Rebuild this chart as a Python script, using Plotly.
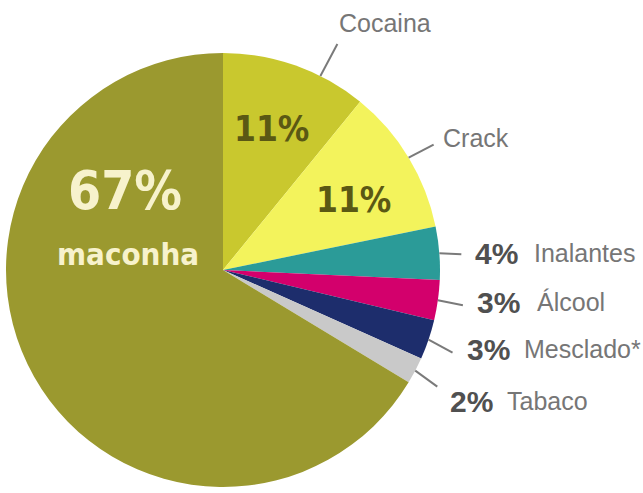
import math
import plotly.graph_objects as go

# ---- data ----
labels = ["Cocaina", "Crack", "Inalantes", "Álcool", "Mesclado*", "Tabaco", "maconha"]
values = [11, 11, 4, 3, 3, 2, 67]
colors = ["#c9c82e", "#f3f35c", "#2b9b98", "#d3006c", "#1d2d6c", "#c9c9c9", "#9b992f"]
pct_text = ["11%", "11%", "4%", "3%", "3%", "2%", "67%"]

W, H = 643, 493
CX, CY, R = 223, 270, 217  # pie centre / radius in px

fig = go.Figure(go.Pie(
    labels=labels, values=values, sort=False, direction="clockwise", rotation=0,
    marker=dict(colors=colors, line=dict(width=0)),
    textinfo="none", hoverinfo="label+percent", showlegend=False,
    domain=dict(x=[(CX - R) / W, (CX + R) / W], y=[1 - (CY + R) / H, 1 - (CY - R) / H]),
))

def px(x, y):
    return x / W, 1 - y / H

ann = []
def text(x, y, s, size, color, family="Liberation Sans, Arial, sans-serif", bold=False, xanchor="center"):
    ax, ay = px(x, y)
    ann.append(dict(x=ax, y=ay, xref="paper", yref="paper", text=(f"<b>{s}</b>" if bold else s),
                    showarrow=False, xanchor=xanchor, yanchor="middle",
                    font=dict(size=size, color=color, family=family)))

narrow = "Liberation Sans Narrow, DejaVu Sans Condensed, Arial Narrow, sans-serif"
cream = "#f7f2cc"
olive_dark = "#5a5814"
gray = "#767676"
dark = "#505050"

# inside labels
text(125, 190, pct_text[6], 53, cream, narrow, True)
text(128, 254, labels[6], 31, cream, narrow, True)
text(271, 129, pct_text[0], 35, olive_dark, narrow, True)
text(353, 200, pct_text[1], 35, olive_dark, narrow, True)

# outside name-only labels
text(385, 23, labels[0], 25, gray)
text(476, 138, labels[1], 25, gray)

# percent + name rows
rows = [  # (index, y, pct_x, name_x)
    (2, 253, 473, 532),
    (3, 302, 475, 535),
    (4, 349, 465, 522),
    (5, 401, 448, 505),
]
for i, y, xp, xn in rows:
    text(xp, y, pct_text[i], 30, dark, bold=True, xanchor="left")
    text(xn, y, labels[i], 25, gray, xanchor="left")

# leader lines from slice edges
total = sum(values)
leader_frac = [0.68, 0.5, 0.5, 0.5, 0.5, 0.5]
leader_off = [(17, -32), (25, -13), (22, 1), (25, 5), (24, 13), (22, 16)]
shapes = []
cum = 0.0
for i in range(6):
    ang = (cum + values[i] * leader_frac[i]) / total * 2 * math.pi
    cum += values[i]
    sx = CX + R * math.sin(ang)
    sy = CY - R * math.cos(ang)
    ex, ey = sx + leader_off[i][0], sy + leader_off[i][1]
    x0, y0 = px(sx, sy)
    x1, y1 = px(ex, ey)
    shapes.append(dict(type="line", xref="paper", yref="paper", x0=x0, y0=y0, x1=x1, y1=y1,
                       line=dict(color="#7a7a7a", width=2)))

fig.update_layout(width=W, height=H, margin=dict(l=0, r=0, t=0, b=0),
                  paper_bgcolor="white", plot_bgcolor="white",
                  annotations=ann, shapes=shapes)
fig.write_html("out.html", config={"displayModeBar": False},
               post_script="document.body.style.margin='0px';")
